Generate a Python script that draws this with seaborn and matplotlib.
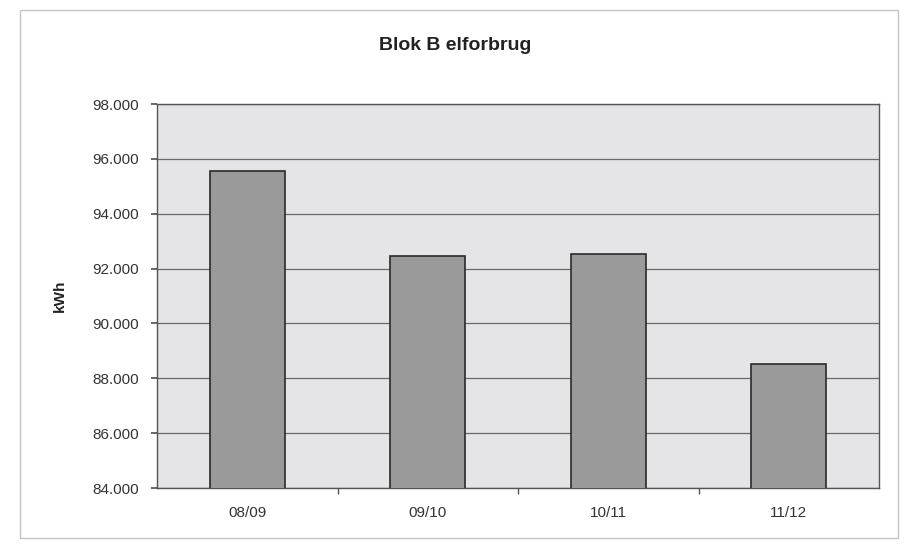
import numpy as np
import pandas as pd
import seaborn as sns
import matplotlib.pyplot as plt
from matplotlib.ticker import FuncFormatter, FixedLocator
from matplotlib.patches import Rectangle

seasons = ['08/09', '09/10', '10/11', '11/12']
kwh = [95550, 92450, 92520, 88520]

sns.set_theme(style="white")
plt.rcParams['font.family'] = ['Liberation Sans', 'DejaVu Sans']

df = pd.DataFrame({'season': seasons, 'kwh': kwh})

fig = plt.figure(figsize=(9.05, 5.44), dpi=100)
ax = fig.add_axes([0.1735, 0.1029, 0.7978, 0.7059])

sns.barplot(data=df, x='season', y='kwh', color='#9a9a9a', width=0.415,
            edgecolor='#2a2a2a', linewidth=1.2, saturation=1, ax=ax, zorder=3)

ax.set_facecolor('#e5e5e8')
ax.set_ylim(84000, 98000)
ax.set_yticks(np.arange(84000, 98001, 2000))
ax.yaxis.set_major_formatter(FuncFormatter(lambda v, p: f'{int(v):,}'.replace(',', '.')))
ax.yaxis.grid(True, color='#6a6a6a', linewidth=0.9, zorder=0)
ax.set_axisbelow(True)
ax.set_xlim(-0.5, 3.5)

for s in ax.spines.values():
    s.set_color('#555555')
    s.set_linewidth(1.0)

ax.tick_params(axis='y', left=True, length=4, color='#555555', labelsize=11,
               labelcolor='#333333', pad=9)
ax.tick_params(axis='x', bottom=False, labelsize=11, labelcolor='#333333', pad=7)
ax.xaxis.set_minor_locator(FixedLocator([0.5, 1.5, 2.5]))
ax.tick_params(axis='x', which='minor', bottom=True, length=4, color='#555555')

ax.set_xlabel('')
ax.set_ylabel('kWh', fontsize=11, fontweight='bold', color='#222222', labelpad=18)
fig.text(0.503, 0.917, 'Blok B elforbrug', ha='center', va='center',
         fontsize=14, fontweight='bold', color='#222222')

fig.patches.append(Rectangle((0.022, 0.011), 0.970, 0.9706, transform=fig.transFigure,
                             fill=False, edgecolor='#c4c4c4', linewidth=1.0))

plt.savefig('out.png', dpi=100)
